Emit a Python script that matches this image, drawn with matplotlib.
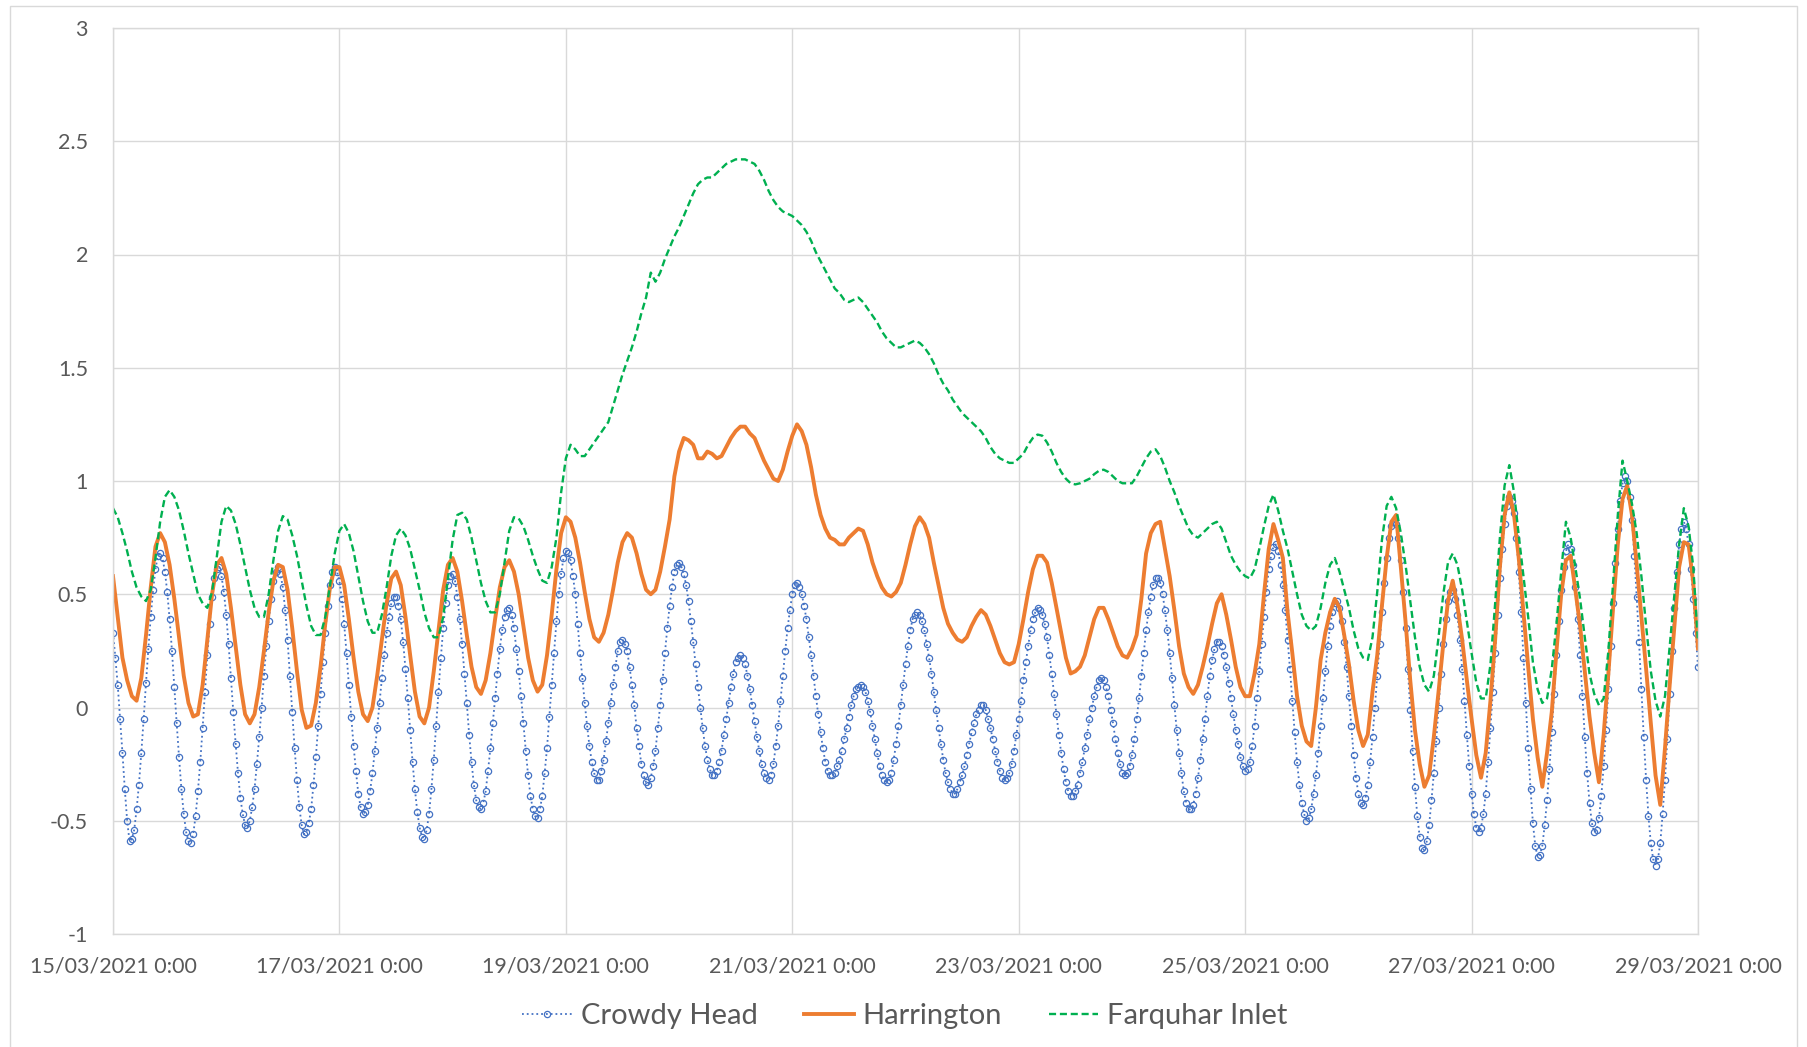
import matplotlib
matplotlib.use("Agg")
import matplotlib.pyplot as plt
import matplotlib.dates as mdates
from matplotlib.ticker import FuncFormatter, MultipleLocator
from matplotlib.patches import Rectangle
import pandas as pd

plt.rcParams['font.family'] = ['Lato', 'DejaVu Sans']

start = pd.Timestamp("2021-03-15 00:00")

# Crowdy Head, every 30 min (one row = 12 hours)
crowdy_head = [
    0.33, 0.22, 0.10, -0.05, -0.20, -0.36, -0.50, -0.59, -0.58, -0.54, -0.45, -0.34, -0.20, -0.05, 0.11, 0.26, 0.40, 0.52, 0.61, 0.67, 0.68, 0.66, 0.60, 0.51,
    0.39, 0.25, 0.09, -0.07, -0.22, -0.36, -0.47, -0.55, -0.59, -0.60, -0.56, -0.48, -0.37, -0.24, -0.09, 0.07, 0.23, 0.37, 0.49, 0.57, 0.61, 0.62, 0.58, 0.51,
    0.41, 0.28, 0.13, -0.02, -0.16, -0.29, -0.40, -0.47, -0.52, -0.53, -0.50, -0.44, -0.36, -0.25, -0.13, 0.00, 0.14, 0.27, 0.38, 0.48, 0.56, 0.60, 0.62, 0.59,
    0.53, 0.43, 0.30, 0.14, -0.02, -0.18, -0.32, -0.44, -0.52, -0.56, -0.55, -0.51, -0.45, -0.34, -0.22, -0.08, 0.06, 0.20, 0.33, 0.45, 0.54, 0.60, 0.62, 0.60,
    0.56, 0.48, 0.37, 0.24, 0.10, -0.04, -0.17, -0.28, -0.38, -0.44, -0.47, -0.46, -0.43, -0.37, -0.29, -0.19, -0.09, 0.02, 0.13, 0.23, 0.33, 0.40, 0.46, 0.49,
    0.49, 0.45, 0.39, 0.29, 0.17, 0.04, -0.10, -0.24, -0.36, -0.46, -0.53, -0.57, -0.58, -0.54, -0.47, -0.36, -0.23, -0.08, 0.07, 0.22, 0.35, 0.46, 0.54, 0.58,
    0.59, 0.56, 0.49, 0.39, 0.28, 0.15, 0.02, -0.12, -0.24, -0.34, -0.41, -0.44, -0.45, -0.42, -0.37, -0.28, -0.18, -0.07, 0.04, 0.15, 0.26, 0.34, 0.40, 0.43,
    0.44, 0.41, 0.35, 0.26, 0.16, 0.05, -0.07, -0.19, -0.30, -0.39, -0.45, -0.48, -0.49, -0.45, -0.39, -0.29, -0.18, -0.04, 0.10, 0.24, 0.38, 0.50, 0.59, 0.66,
    0.69, 0.68, 0.65, 0.58, 0.50, 0.37, 0.24, 0.13, 0.02, -0.08, -0.17, -0.24, -0.29, -0.32, -0.32, -0.28, -0.23, -0.15, -0.07, 0.02, 0.10, 0.18, 0.25, 0.29,
    0.30, 0.28, 0.25, 0.18, 0.10, 0.01, -0.09, -0.17, -0.25, -0.30, -0.33, -0.34, -0.31, -0.26, -0.19, -0.09, 0.01, 0.12, 0.24, 0.35, 0.45, 0.53, 0.60, 0.63,
    0.64, 0.62, 0.59, 0.54, 0.47, 0.38, 0.29, 0.19, 0.09, 0.00, -0.09, -0.17, -0.23, -0.27, -0.30, -0.30, -0.28, -0.24, -0.19, -0.12, -0.05, 0.02, 0.09, 0.15,
    0.20, 0.22, 0.23, 0.22, 0.19, 0.14, 0.08, 0.01, -0.06, -0.13, -0.19, -0.25, -0.29, -0.31, -0.32, -0.30, -0.25, -0.17, -0.08, 0.03, 0.14, 0.25, 0.35, 0.43,
    0.50, 0.54, 0.55, 0.53, 0.50, 0.45, 0.39, 0.31, 0.23, 0.14, 0.05, -0.03, -0.11, -0.18, -0.24, -0.28, -0.30, -0.30, -0.29, -0.26, -0.23, -0.19, -0.14, -0.09,
    -0.04, 0.01, 0.05, 0.08, 0.09, 0.10, 0.09, 0.07, 0.03, -0.02, -0.08, -0.14, -0.20, -0.26, -0.30, -0.32, -0.33, -0.32, -0.29, -0.23, -0.16, -0.08, 0.01, 0.10,
    0.19, 0.27, 0.34, 0.39, 0.41, 0.42, 0.41, 0.38, 0.34, 0.28, 0.22, 0.15, 0.07, -0.01, -0.09, -0.16, -0.23, -0.29, -0.33, -0.36, -0.38, -0.38, -0.36, -0.33,
    -0.30, -0.26, -0.21, -0.16, -0.11, -0.07, -0.03, -0.01, 0.01, 0.01, -0.01, -0.05, -0.09, -0.14, -0.19, -0.24, -0.28, -0.31, -0.32, -0.31, -0.29, -0.25, -0.19, -0.12,
    -0.05, 0.03, 0.12, 0.20, 0.27, 0.34, 0.39, 0.42, 0.44, 0.43, 0.41, 0.37, 0.31, 0.23, 0.15, 0.06, -0.03, -0.12, -0.20, -0.27, -0.33, -0.37, -0.39, -0.39,
    -0.37, -0.34, -0.29, -0.24, -0.18, -0.12, -0.05, 0.00, 0.05, 0.09, 0.12, 0.13, 0.12, 0.09, 0.05, -0.01, -0.07, -0.14, -0.20, -0.25, -0.29, -0.30, -0.29, -0.26,
    -0.21, -0.14, -0.05, 0.04, 0.14, 0.24, 0.34, 0.42, 0.49, 0.54, 0.57, 0.57, 0.55, 0.50, 0.43, 0.34, 0.24, 0.13, 0.01, -0.10, -0.20, -0.29, -0.37, -0.42,
    -0.45, -0.45, -0.43, -0.38, -0.31, -0.23, -0.14, -0.05, 0.05, 0.14, 0.21, 0.26, 0.29, 0.29, 0.27, 0.23, 0.18, 0.11, 0.04, -0.03, -0.10, -0.16, -0.22, -0.26,
    -0.28, -0.27, -0.24, -0.17, -0.08, 0.04, 0.16, 0.28, 0.40, 0.51, 0.61, 0.67, 0.71, 0.72, 0.69, 0.63, 0.54, 0.43, 0.30, 0.17, 0.03, -0.11, -0.24, -0.34,
    -0.42, -0.47, -0.50, -0.49, -0.45, -0.38, -0.30, -0.20, -0.08, 0.04, 0.16, 0.27, 0.36, 0.42, 0.46, 0.47, 0.44, 0.38, 0.29, 0.18, 0.05, -0.08, -0.21, -0.31,
    -0.38, -0.42, -0.43, -0.40, -0.34, -0.24, -0.13, 0.00, 0.14, 0.28, 0.42, 0.55, 0.66, 0.75, 0.80, 0.82, 0.81, 0.75, 0.65, 0.51, 0.35, 0.17, -0.01, -0.19,
    -0.35, -0.48, -0.57, -0.62, -0.63, -0.59, -0.52, -0.41, -0.29, -0.15, 0.00, 0.15, 0.28, 0.39, 0.47, 0.51, 0.52, 0.48, 0.41, 0.30, 0.17, 0.03, -0.12, -0.26,
    -0.38, -0.47, -0.53, -0.55, -0.53, -0.47, -0.38, -0.24, -0.09, 0.07, 0.24, 0.41, 0.57, 0.70, 0.81, 0.89, 0.93, 0.91, 0.86, 0.75, 0.60, 0.42, 0.22, 0.02,
    -0.18, -0.36, -0.51, -0.61, -0.66, -0.65, -0.61, -0.52, -0.41, -0.27, -0.11, 0.06, 0.23, 0.38, 0.52, 0.62, 0.69, 0.72, 0.70, 0.63, 0.53, 0.39, 0.23, 0.05,
    -0.13, -0.29, -0.42, -0.51, -0.55, -0.54, -0.49, -0.39, -0.26, -0.10, 0.08, 0.27, 0.46, 0.64, 0.79, 0.91, 0.99, 1.02, 1.00, 0.93, 0.83, 0.67, 0.49, 0.29,
    0.08, -0.13, -0.32, -0.48, -0.60, -0.67, -0.70, -0.67, -0.60, -0.47, -0.32, -0.14, 0.06, 0.25, 0.44, 0.60, 0.72, 0.79, 0.82, 0.79, 0.72, 0.61, 0.48, 0.33,
    0.18,
]

# Harrington, hourly (one row = 12 hours)
harrington = [
    0.58, 0.40, 0.22, 0.12, 0.05, 0.03, 0.13, 0.32, 0.53, 0.71, 0.77, 0.73,
    0.63, 0.48, 0.31, 0.14, 0.02, -0.04, -0.03, 0.10, 0.30, 0.50, 0.63, 0.66,
    0.59, 0.44, 0.27, 0.10, -0.03, -0.07, -0.03, 0.09, 0.25, 0.42, 0.56, 0.63,
    0.62, 0.52, 0.35, 0.16, -0.01, -0.09, -0.08, 0.02, 0.18, 0.37, 0.53, 0.62,
    0.62, 0.54, 0.39, 0.22, 0.07, -0.03, -0.06, 0.00, 0.14, 0.30, 0.46, 0.57,
    0.60, 0.54, 0.40, 0.23, 0.07, -0.04, -0.07, 0.00, 0.16, 0.34, 0.52, 0.63,
    0.66, 0.60, 0.47, 0.32, 0.18, 0.09, 0.06, 0.12, 0.24, 0.39, 0.53, 0.62,
    0.65, 0.60, 0.50, 0.36, 0.22, 0.12, 0.07, 0.10, 0.23, 0.41, 0.61, 0.77,
    0.84, 0.82, 0.75, 0.64, 0.51, 0.39, 0.31, 0.29, 0.33, 0.41, 0.52, 0.64,
    0.73, 0.77, 0.75, 0.68, 0.59, 0.52, 0.50, 0.52, 0.60, 0.71, 0.83, 1.02,
    1.13, 1.19, 1.18, 1.16, 1.10, 1.10, 1.13, 1.12, 1.10, 1.11, 1.15, 1.19,
    1.22, 1.24, 1.24, 1.21, 1.19, 1.14, 1.09, 1.05, 1.01, 1.00, 1.05, 1.13,
    1.20, 1.25, 1.22, 1.16, 1.06, 0.94, 0.85, 0.79, 0.75, 0.74, 0.72, 0.72,
    0.75, 0.77, 0.79, 0.78, 0.72, 0.64, 0.58, 0.53, 0.50, 0.49, 0.51, 0.55,
    0.63, 0.72, 0.80, 0.84, 0.81, 0.75, 0.64, 0.54, 0.44, 0.37, 0.33, 0.30,
    0.29, 0.31, 0.36, 0.40, 0.43, 0.41, 0.36, 0.30, 0.24, 0.20, 0.19, 0.20,
    0.28, 0.39, 0.51, 0.61, 0.67, 0.67, 0.64, 0.55, 0.44, 0.33, 0.22, 0.15,
    0.16, 0.18, 0.23, 0.31, 0.39, 0.44, 0.44, 0.39, 0.33, 0.27, 0.23, 0.22,
    0.26, 0.32, 0.48, 0.68, 0.77, 0.81, 0.82, 0.70, 0.58, 0.43, 0.27, 0.15,
    0.09, 0.06, 0.10, 0.18, 0.27, 0.37, 0.46, 0.50, 0.41, 0.30, 0.18, 0.09,
    0.05, 0.05, 0.15, 0.28, 0.50, 0.70, 0.81, 0.74, 0.66, 0.42, 0.24, 0.05,
    -0.08, -0.15, -0.17, 0.00, 0.21, 0.33, 0.42, 0.48, 0.44, 0.32, 0.19, 0.03,
    -0.10, -0.17, -0.12, 0.07, 0.23, 0.45, 0.66, 0.82, 0.85, 0.62, 0.38, 0.12,
    -0.10, -0.25, -0.35, -0.30, -0.13, 0.07, 0.28, 0.47, 0.56, 0.45, 0.30, 0.12,
    -0.05, -0.21, -0.31, -0.20, 0.03, 0.30, 0.62, 0.85, 0.95, 0.85, 0.66, 0.42,
    0.18, -0.05, -0.22, -0.35, -0.20, -0.02, 0.25, 0.50, 0.65, 0.67, 0.52, 0.36,
    0.16, -0.04, -0.20, -0.33, -0.12, 0.15, 0.44, 0.72, 0.92, 0.98, 0.85, 0.63,
    0.40, 0.17, -0.07, -0.30, -0.43, -0.18, 0.10, 0.36, 0.62, 0.73, 0.72, 0.55,
    0.26,
]

# Farquhar Inlet, hourly (one row = 12 hours)
farquhar_inlet = [
    0.88, 0.84, 0.77, 0.69, 0.60, 0.53, 0.49, 0.47, 0.52, 0.66, 0.82, 0.93,
    0.96, 0.93, 0.87, 0.78, 0.68, 0.59, 0.50, 0.46, 0.44, 0.51, 0.665, 0.82,
    0.89, 0.87, 0.81, 0.72, 0.62, 0.52, 0.44, 0.40, 0.40, 0.50, 0.65, 0.78,
    0.845, 0.83, 0.76, 0.67, 0.56, 0.45, 0.36, 0.32, 0.32, 0.40, 0.54, 0.68,
    0.78, 0.81, 0.77, 0.69, 0.58, 0.47, 0.38, 0.33, 0.33, 0.41, 0.53, 0.67,
    0.76, 0.79, 0.76, 0.70, 0.61, 0.52, 0.42, 0.35, 0.31, 0.31, 0.40, 0.57,
    0.74, 0.85, 0.86, 0.83, 0.75, 0.65, 0.55, 0.47, 0.42, 0.42, 0.50, 0.64,
    0.78, 0.84, 0.835, 0.80, 0.74, 0.67, 0.61, 0.56, 0.55, 0.62, 0.75, 0.95,
    1.10, 1.16, 1.14, 1.11, 1.11, 1.14, 1.17, 1.20, 1.23, 1.26, 1.33, 1.40,
    1.47, 1.53, 1.59, 1.66, 1.74, 1.81, 1.92, 1.88, 1.92, 1.98, 2.03, 2.08,
    2.12, 2.17, 2.22, 2.27, 2.31, 2.33, 2.34, 2.34, 2.36, 2.38, 2.40, 2.41,
    2.42, 2.42, 2.42, 2.41, 2.40, 2.37, 2.33, 2.28, 2.24, 2.21, 2.19, 2.18,
    2.17, 2.15, 2.13, 2.10, 2.06, 2.01, 1.97, 1.93, 1.89, 1.85, 1.83, 1.80,
    1.79, 1.80, 1.81, 1.79, 1.76, 1.73, 1.70, 1.66, 1.63, 1.61, 1.59, 1.59,
    1.60, 1.61, 1.62, 1.61, 1.59, 1.56, 1.52, 1.47, 1.43, 1.40, 1.36, 1.33,
    1.30, 1.28, 1.26, 1.24, 1.22, 1.19, 1.15, 1.12, 1.10, 1.09, 1.08, 1.08,
    1.10, 1.12, 1.16, 1.19, 1.205, 1.20, 1.17, 1.13, 1.08, 1.04, 1.01, 0.99,
    0.985, 0.99, 1.00, 1.01, 1.03, 1.045, 1.05, 1.04, 1.02, 1.00, 0.99, 0.99,
    0.99, 1.02, 1.06, 1.10, 1.13, 1.14, 1.11, 1.06, 1.00, 0.95, 0.89, 0.84,
    0.79, 0.76, 0.75, 0.77, 0.79, 0.81, 0.82, 0.79, 0.73, 0.67, 0.63, 0.60,
    0.58, 0.57, 0.61, 0.70, 0.80, 0.89, 0.94, 0.87, 0.78, 0.70, 0.60, 0.50,
    0.41, 0.36, 0.34, 0.36, 0.44, 0.55, 0.63, 0.66, 0.60, 0.52, 0.44, 0.34,
    0.26, 0.22, 0.21, 0.31, 0.51, 0.74, 0.89, 0.93, 0.88, 0.77, 0.63, 0.47,
    0.31, 0.18, 0.10, 0.07, 0.14, 0.31, 0.50, 0.64, 0.68, 0.63, 0.52, 0.38,
    0.24, 0.11, 0.04, 0.04, 0.19, 0.46, 0.75, 0.98, 1.07, 0.95, 0.76, 0.58,
    0.40, 0.20, 0.08, 0.02, 0.04, 0.17, 0.37, 0.60, 0.82, 0.75, 0.62, 0.48,
    0.31, 0.15, 0.06, 0.01, 0.04, 0.25, 0.55, 0.85, 1.09, 1.00, 0.90, 0.77,
    0.58, 0.36, 0.16, 0.03, -0.04, 0.05, 0.27, 0.50, 0.72, 0.88, 0.80, 0.62,
    0.29,
]

series_names = ["Crowdy Head", "Harrington", "Farquhar Inlet"]
tick_dates = pd.date_range(start, periods=8, freq="2D")

W, H = 1807, 1047
fig = plt.figure(figsize=(W / 100, H / 100), dpi=100)
ax = fig.add_axes([113 / W, 1 - 934 / H, (1698 - 113) / W, (934 - 28) / H])

t1 = pd.date_range(start, periods=len(crowdy_head), freq="30min")
t2 = pd.date_range(start, periods=len(harrington), freq="h")
t3 = pd.date_range(start, periods=len(farquhar_inlet), freq="h")

ax.plot(t1, crowdy_head, color="#4472C4", linestyle=":", linewidth=1.3,
        marker="o", markersize=4.5, markerfacecolor="none",
        markeredgecolor="#4472C4", markeredgewidth=0.9, label=series_names[0])
ax.plot(t2, harrington, color="#ED7D31", linestyle="-", linewidth=2.8,
        label=series_names[1])
ax.plot(t3, farquhar_inlet, color="#00B050", linestyle=(0, (3, 1.6)),
        linewidth=1.7, label=series_names[2])

ax.set_xlim(start, start + pd.Timedelta(days=14))
ax.set_ylim(-1, 3)
ax.set_xticks(tick_dates)


def date_label(x, pos):
    d = mdates.num2date(x)
    return "{:%d/%m/%Y} {}:{:%M}".format(d, d.hour, d)


ax.xaxis.set_major_formatter(FuncFormatter(date_label))
ax.yaxis.set_major_locator(MultipleLocator(0.5))
ax.yaxis.set_major_formatter(FuncFormatter(lambda v, pos: "{:g}".format(v)))

ax.grid(True, color="#d9d9d9", linewidth=1.0)
ax.set_axisbelow(True)
for s in ax.spines.values():
    s.set_color("#d9d9d9")
    s.set_linewidth(1.0)

ax.tick_params(axis="both", length=0, labelsize=15.5, labelcolor="#595959")
ax.tick_params(axis="y", pad=18)
ax.tick_params(axis="x", pad=16)

fig.legend(loc="center", bbox_to_anchor=(0.5008, 1 - 1016 / H), ncol=3,
           frameon=False, fontsize=21, handlelength=1.7, handletextpad=0.3,
           columnspacing=1.6, labelcolor="#595959")

# chart area border
fig.add_artist(Rectangle((10 / W, -0.01), (1797 - 10) / W, 1.01 - 6 / H,
                         transform=fig.transFigure, fill=False,
                         edgecolor="#d9d9d9", linewidth=1.0))

fig.savefig("out.png", dpi=100)
